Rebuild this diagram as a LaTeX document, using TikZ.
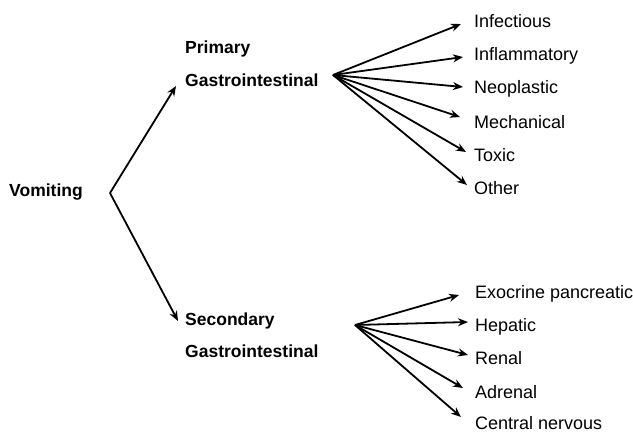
\documentclass[tikz,border=0pt]{standalone}
\usepackage{fontspec}
\setmainfont{Liberation Sans}
\usetikzlibrary{arrows.meta}
\begin{document}
\begin{tikzpicture}[x=1pt,y=-1pt,
  main/.style={anchor=base west,inner sep=0pt,font=\fontsize{17.5}{20}\selectfont\bfseries},
  sub/.style={anchor=base west,inner sep=0pt,font=\fontsize{18}{20}\selectfont},
  arr/.style={line width=1.8pt,-{Stealth[length=10pt,width=8pt]}}]
\useasboundingbox (0,0) rectangle (633,432);
% left
\node[main] (vom) at (9,196.5) {Vomiting};
\coordinate (vf) at (110,193);
\node[main] (prim) at (185,53.5) {Primary};
\node[main] (pgi) at (185,86.5) {Gastrointestinal};
\node[main] (sec) at (185,325.5) {Secondary};
\node[main] (sgi) at (185,357.5) {Gastrointestinal};
\coordinate (pt) at (176,86);
\coordinate (st) at (178,321);
\draw[arr] (vf) -- (pt);
\draw[arr] (vf) -- (st);
% primary fan
\coordinate (pf) at (333,75);
\node[sub] (inf) at (474,27.5) {Infectious};
\node[sub] (infl) at (474,60.5) {Inflammatory};
\node[sub] (neo) at (474,93.5) {Neoplastic};
\node[sub] (mech) at (474,128) {Mechanical};
\node[sub] (tox) at (474,161.5) {Toxic};
\node[sub] (oth) at (474,194.5) {Other};
\coordinate (t1) at (461,24);
\coordinate (t2) at (463,57);
\coordinate (t3) at (463,87);
\coordinate (t4) at (460,117);
\coordinate (t5) at (466,152);
\coordinate (t6) at (467,185);
\foreach \t in {t1,t2,t3,t4,t5,t6} \draw[arr] (pf) -- (\t);
% secondary fan
\coordinate (sf) at (355,325);
\node[sub] (exo) at (475,298.5) {Exocrine pancreatic};
\node[sub] (hep) at (475,331.5) {Hepatic};
\node[sub] (ren) at (475,364.5) {Renal};
\node[sub] (adr) at (475,398) {Adrenal};
\node[sub] (cns) at (475,429.5) {Central nervous};
\coordinate (u1) at (459,295);
\coordinate (u2) at (468,322);
\coordinate (u3) at (468,355);
\coordinate (u4) at (463,388);
\coordinate (u5) at (461,417);
\foreach \t in {u1,u2,u3,u4,u5} \draw[arr] (sf) -- (\t);
\end{tikzpicture}
\end{document}
